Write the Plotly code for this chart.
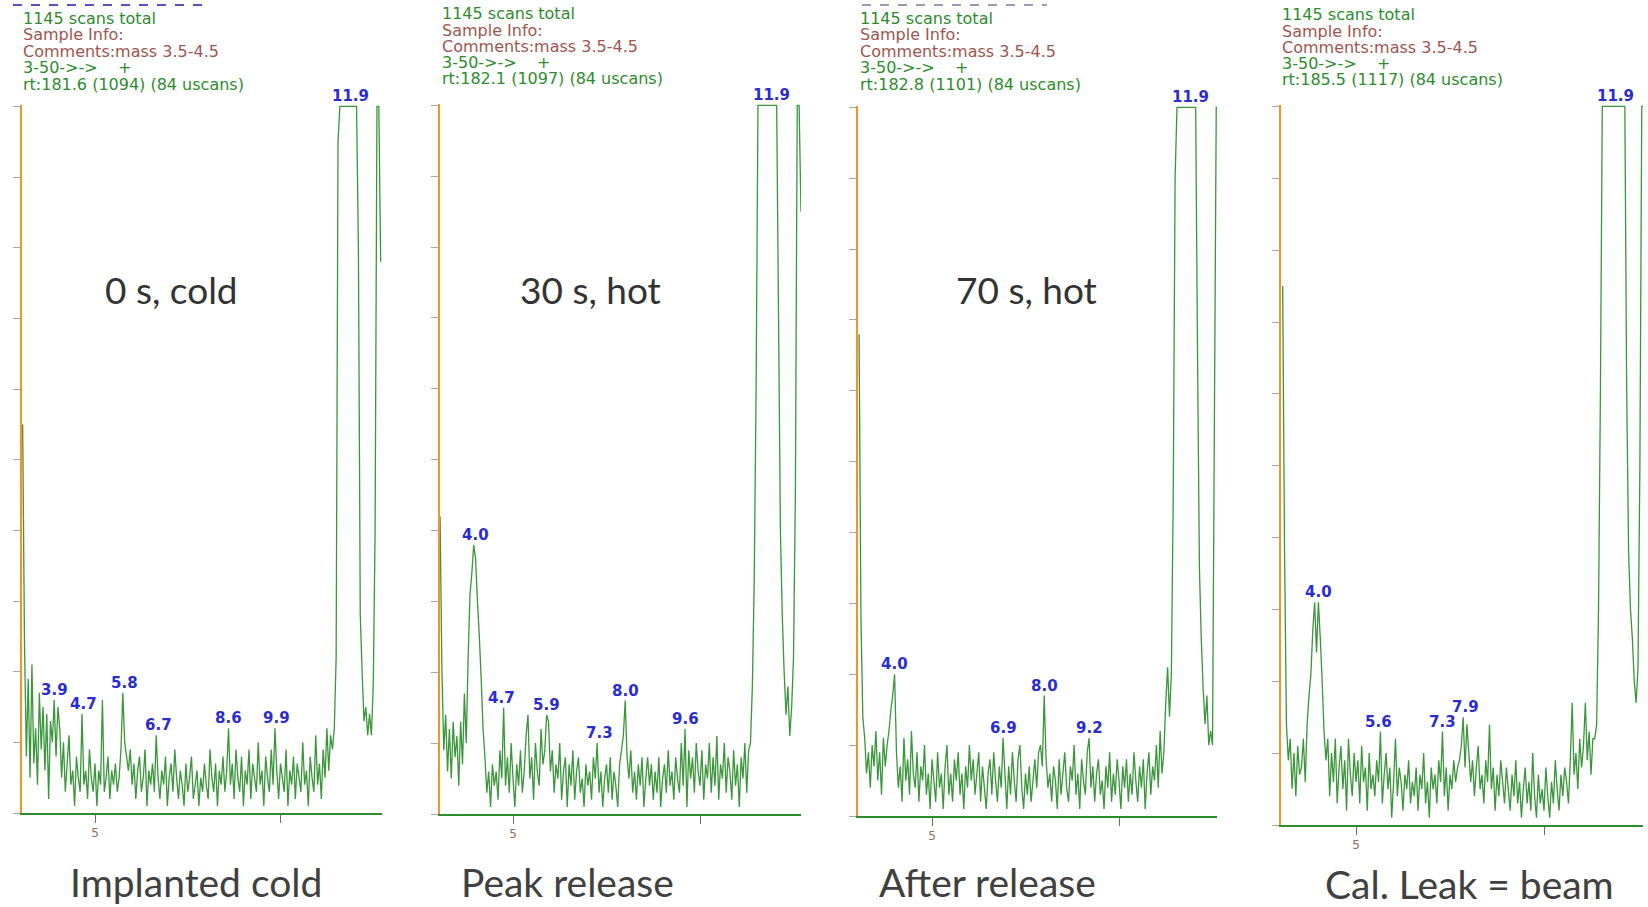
import numpy as np
import plotly.graph_objects as go

W, H = 1648, 907

# mass axis sampling of the spectra (m/z)
MASS_START, MASS_STEP = 3.05, 0.05

# intensities (% of full scale)
implanted_cold = [
    55, 24, 8, 19, 5, 21, 7, 12, 4, 17,
    9, 15, 6, 14, 2, 13, 10, 16, 8, 15,
    12, 5, 10, 3, 7, 11, 4, 6, 1, 8,
    5, 3, 14, 4, 6, 2, 9, 5, 3, 7,
    1, 6, 4, 16, 3, 5, 8, 2, 6, 4,
    7, 3, 5, 9, 17, 10, 8, 6, 9, 4,
    7, 2, 6, 8, 3, 5, 9, 1, 6, 4,
    7, 3, 11, 5, 2, 6, 4, 8, 1, 5,
    7, 3, 9, 5, 2, 6, 4, 1, 7, 3,
    5, 8, 2, 4, 6, 1, 5, 3, 7, 4,
    2, 9, 5, 3, 7, 1, 6, 4, 8, 3,
    6, 12, 4, 7, 2, 9, 5, 3, 8, 1,
    6, 4, 9, 2, 7, 5, 3, 10, 4, 6,
    1, 8, 5, 3, 9, 4, 12, 6, 2, 7,
    5, 3, 9, 1, 6, 4, 8, 2, 7, 5,
    3, 10, 4, 6, 1, 8, 5, 3, 11, 4,
    7, 2, 9, 5, 12, 6, 11, 9, 12, 22,
    95, 100, 100, 100, 100, 100, 100, 100, 100, 100,
    100, 80, 28, 20, 13, 15, 11, 14, 11, 18,
    40, 100, 100, 78,
]

peak_release = [
    42, 20, 9, 14, 6, 12, 5, 13, 8, 11,
    4, 13, 7, 17, 10, 22, 31, 34, 38, 36,
    30, 25, 19, 12, 8, 3, 6, 1, 7, 4,
    6, 2, 9, 5, 15, 4, 8, 3, 10, 5,
    1, 7, 4, 9, 3, 6, 11, 14, 5, 8,
    2, 10, 6, 4, 12, 7, 9, 14, 13, 6,
    9, 3, 7, 5, 10, 2, 6, 8, 1, 7,
    4, 9, 2, 6, 8, 3, 5, 1, 7, 4,
    6, 2, 8, 5, 10, 3, 6, 1, 5, 7,
    3, 8, 2, 6, 4, 1, 7, 9, 11, 16,
    8, 5, 9, 3, 6, 2, 7, 4, 8, 1,
    5, 8, 4, 7, 2, 6, 3, 8, 1, 5,
    7, 3, 9, 4, 6, 2, 8, 5, 3, 10,
    4, 12, 1, 9, 5, 8, 3, 10, 6, 4,
    9, 2, 7, 5, 10, 3, 8, 4, 11, 2,
    7, 5, 10, 3, 8, 6, 2, 9, 4, 7,
    1, 8, 5, 10, 3, 9, 10, 18, 33, 60,
    100, 100, 100, 100, 100, 100, 100, 100, 100, 100,
    100, 70, 40, 28, 20, 14, 18, 11, 15, 22,
    45, 100, 100, 85,
]

after_release = [
    68, 28, 14, 11, 6, 9, 4, 10, 7, 12,
    5, 9, 3, 11, 7, 10, 12, 15, 17, 20,
    9, 4, 7, 2, 11, 5, 8, 3, 12, 6,
    4, 9, 2, 7, 5, 10, 3, 6, 1, 8,
    5, 2, 9, 4, 6, 1, 7, 10, 3, 6,
    2, 8, 5, 9, 3, 6, 1, 7, 4, 10,
    5, 8, 3, 6, 9, 2, 7, 4, 1, 6,
    8, 3, 9, 5, 2, 7, 4, 11, 6, 1,
    7, 3, 9, 5, 2, 8, 10, 4, 1, 6,
    3, 7, 2, 5, 8, 4, 9, 10, 7, 17,
    8, 4, 6, 2, 7, 5, 1, 8, 3, 6,
    9, 4, 2, 7, 5, 10, 3, 6, 1, 8,
    5, 3, 9, 11, 4, 7, 2, 6, 8, 3,
    5, 1, 7, 4, 9, 2, 6, 3, 8, 5,
    1, 7, 4, 8, 2, 6, 3, 9, 5, 2,
    7, 4, 8, 1, 6, 9, 3, 7, 5, 10,
    4, 12, 6, 9, 16, 21, 14, 20, 45, 90,
    100, 100, 100, 100, 100, 100, 100, 100, 100, 100,
    100, 65, 35, 25, 18, 13, 17, 10, 12, 10,
    55, 100, 100, 88,
]

cal_leak = [
    75, 38, 14, 9, 12, 5, 10, 4, 11, 7,
    8, 12, 6, 14, 18, 21, 27, 31, 24, 31,
    26, 20, 13, 9, 12, 4, 10, 6, 12, 3,
    8, 11, 5, 9, 2, 12, 7, 4, 10, 6,
    9, 3, 11, 6, 8, 2, 10, 5, 7, 4,
    9, 6, 13, 3, 7, 10, 5, 8, 1, 6,
    12, 4, 8, 6, 2, 7, 5, 9, 3, 6,
    4, 8, 2, 7, 5, 10, 3, 6, 1, 8,
    5, 7, 3, 9, 6, 13, 4, 8, 2, 7,
    5, 9, 6, 8, 9, 11, 15, 8, 14, 10,
    6, 9, 4, 8, 11, 5, 7, 3, 9, 6,
    14, 5, 8, 2, 7, 4, 9, 6, 3, 8,
    5, 2, 7, 4, 9, 3, 6, 1, 5, 8,
    3, 6, 2, 10, 4, 1, 7, 3, 5, 2,
    8, 4, 1, 6, 3, 9, 5, 2, 7, 4,
    8, 6, 3, 9, 17, 7, 10, 5, 12, 8,
    11, 17, 9, 13, 7, 12, 12, 14, 30, 60,
    100, 100, 100, 100, 100, 100, 100, 100, 100, 100,
    100, 100, 100, 60, 38, 30, 26, 20, 17, 22,
    50, 100, 100, 85,
]

peaks_implanted = ["3.9", "4.7", "5.8", "6.7", "8.6", "9.9", "11.9"]
peaks_release = ["4.0", "4.7", "5.9", "7.3", "8.0", "9.6", "11.9"]
peaks_after = ["4.0", "6.9", "8.0", "9.2", "11.9"]
peaks_cal = ["4.0", "5.6", "7.3", "7.9", "11.9"]

rt_lines = [
    "rt:181.6 (1094) (84 uscans)",
    "rt:182.1 (1097) (84 uscans)",
    "rt:182.8 (1101) (84 uscans)",
    "rt:185.5 (1117) (84 uscans)",
]
header_common = ["1145 scans total", "Sample Info:", "Comments:mass 3.5-4.5",
                 "3-50->->\u00a0\u00a0\u00a0\u00a0+"]
state_labels = ["0 s, cold", "30 s, hot", "70 s, hot", ""]
panel_titles = ["Implanted cold", "Peak release", "After release", "Cal. Leak = beam"]

series = [implanted_cold, peak_release, after_release, cal_leak]
peak_lists = [peaks_implanted, peaks_release, peaks_after, peaks_cal]

# panel geometry in page pixels
geom = [
    dict(l=22, r=382, t=105, b=813, t5=95, ppu=37.1, hx=21, hy=18, dy=16.5, tx=196, ty=882, sx=171),
    dict(l=440, r=801, t=104, b=814, t5=513, ppu=37.4, hx=440, hy=14, dy=16.2, tx=567, ty=882, sx=590),
    dict(l=858, r=1217, t=106, b=816, t5=932, ppu=37.4, hx=858, hy=18, dy=16.5, tx=988, ty=882, sx=1026),
    dict(l=1281, r=1643, t=105, b=825, t5=1356, ppu=37.6, hx=1280, hy=15, dy=16.2, tx=1469, ty=884, sx=None),
]

LINE_GREEN = "#3a963a"
AXIS_GREEN = "#2e8b2e"
ORANGE = "#f39424"
BLUE = "#2b2bd4"
HEAD_COLORS = ["#2e8b2e", "#a0554f", "#a0554f", "#2e8b2e", "#2e8b2e"]

fig = go.Figure()
layout = dict(
    width=W, height=H, margin=dict(l=0, r=0, t=0, b=0),
    paper_bgcolor="white", plot_bgcolor="white", showlegend=False,
)
annotations = []
shapes = []


def px(x):
    return x / W


def py(y):
    return 1 - y / H


for k, (vals, g, peaks) in enumerate(zip(series, geom, peak_lists)):
    ax = "" if k == 0 else str(k + 1)
    vals = np.array(vals, dtype=float)
    mass = MASS_START + MASS_STEP * np.arange(len(vals))
    fig.add_trace(go.Scatter(
        x=mass, y=vals, mode="lines",
        line=dict(color=LINE_GREEN, width=1.3, simplify=False),
        xaxis="x" + ax, yaxis="y" + ax, hoverinfo="skip",
    ))
    left = 5 - (g["t5"] - g["l"]) / g["ppu"]
    right = 5 + (g["r"] - g["t5"]) / g["ppu"]
    layout["xaxis" + ax] = dict(
        domain=[px(g["l"]), px(g["r"])], range=[left, right], anchor="y" + ax,
        showgrid=False, zeroline=False, showline=True, linecolor=AXIS_GREEN, linewidth=2,
        tickvals=[5, 10], ticktext=["5", ""], ticks="outside", ticklen=8,
        tickcolor="#6b6b6b", tickwidth=1,
        tickfont=dict(family="DejaVu Sans", size=12, color="#9a6b5b"),
    )
    layout["yaxis" + ax] = dict(
        domain=[py(g["b"]), py(g["t"])], range=[0, 100.2], anchor="x" + ax,
        showgrid=False, zeroline=False, showline=True, linecolor=ORANGE, linewidth=2,
        tick0=0, dtick=10, ticks="outside", ticklen=7, tickcolor="#a8a8a8", tickwidth=1,
        showticklabels=False,
    )
    # peak labels placed above the local maximum
    for lab in peaks:
        m = float(lab)
        win = np.abs(mass - m) <= 0.071
        ytop = float(vals[win].max())
        annotations.append(dict(
            x=m, y=ytop, xref="x" + ax, yref="y" + ax, text=lab, showarrow=False,
            yshift=10, yanchor="middle", xanchor="center",
            font=dict(family="DejaVu Sans", size=15, color=BLUE, weight="bold"),
        ))
    # header text
    lines = header_common + [rt_lines[k]]
    for j, (txt, col) in enumerate(zip(lines, HEAD_COLORS)):
        annotations.append(dict(
            x=px(g["hx"]), y=py(g["hy"] + j * g["dy"]), xref="paper", yref="paper",
            text=txt, showarrow=False, xanchor="left", yanchor="middle",
            font=dict(family="DejaVu Sans", size=16, color=col),
        ))
    # condition label inside the panel
    if state_labels[k]:
        annotations.append(dict(
            x=px(g["sx"]), y=py(289), xref="paper", yref="paper", text=state_labels[k],
            showarrow=False, xanchor="center", yanchor="middle",
            font=dict(family="Lato", size=37, color="#333333"),
        ))
    # caption below the panel
    annotations.append(dict(
        x=px(g["tx"]), y=py(g["ty"]), xref="paper", yref="paper", text=panel_titles[k],
        showarrow=False, xanchor="center", yanchor="middle",
        font=dict(family="Lato", size=39, color="#404040"),
    ))

# clipped dashed rule remnants at the top of panels 1 and 3
shapes.append(dict(type="line", xref="paper", yref="paper", x0=px(13), x1=px(205),
                   y0=py(5), y1=py(5), line=dict(color="#5b4fc8", width=2, dash="dash")))
shapes.append(dict(type="line", xref="paper", yref="paper", x0=px(862), x1=px(1047),
                   y0=py(5), y1=py(5), line=dict(color="#9a9ab8", width=2, dash="dash")))

layout["annotations"] = annotations
layout["shapes"] = shapes
fig.update_layout(**layout)

fig.write_html(
    "out.html",
    config={"displayModeBar": False},
    post_script="document.body.style.margin='0';document.body.style.overflow='hidden';",
)
